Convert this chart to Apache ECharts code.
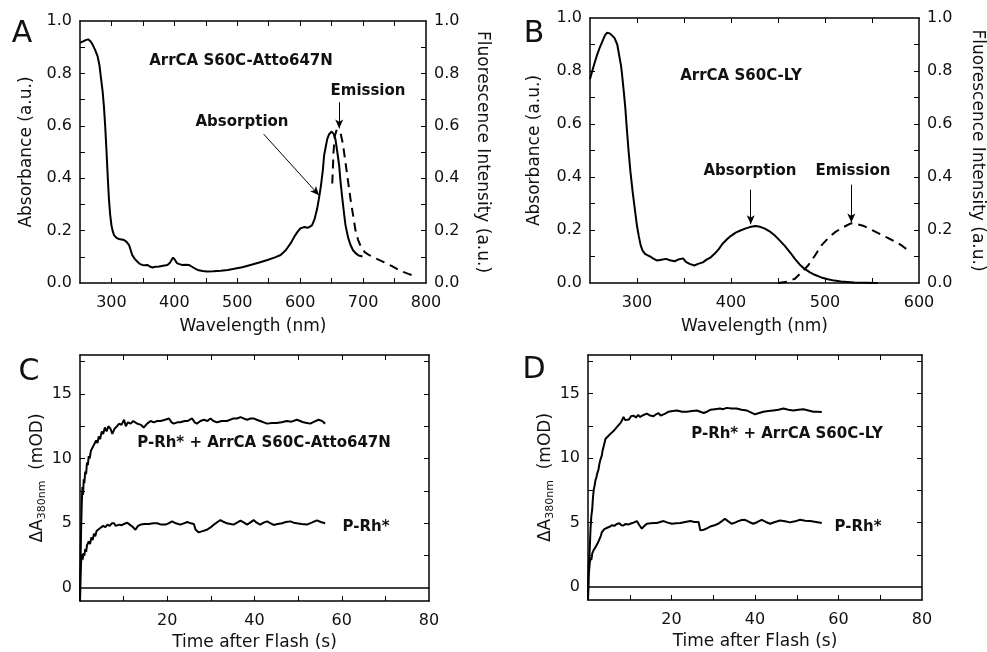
<!DOCTYPE html>
<html>
<head>
<meta charset="utf-8">
<script src="https://cdn.jsdelivr.net/npm/echarts@6/dist/echarts.min.js"></script>
<style>
  html, body { margin: 0; padding: 0; background: #fff; }
  #main { width: 987px; height: 652px; }
</style>
</head>
<body>
<div id="main"></div>
<script>
// panel A: ArrCA S60C-Atto647N spectra [nm, value]
var absA = [[250,0.917],[255,0.922],[259,0.927],[263,0.93],[267,0.922],[270,0.91],[274,0.89],[278,0.865],[281,0.83],[283,0.79],[286,0.73],[288,0.675],[290,0.6],[292,0.51],[294,0.41],[296,0.32],[298,0.26],[300,0.22],[302,0.198],[304,0.183],[308,0.172],[312,0.168],[316,0.166],[320,0.164],[324,0.157],[328,0.145],[330,0.13],[333,0.107],[337,0.092],[341,0.082],[345,0.073],[349,0.069],[353,0.068],[357,0.069],[361,0.063],[365,0.059],[370,0.062],[376,0.063],[382,0.066],[389,0.069],[393,0.077],[395,0.082],[398,0.097],[401,0.088],[404,0.076],[408,0.072],[413,0.069],[418,0.07],[423,0.069],[428,0.062],[433,0.055],[437,0.05],[445,0.046],[452,0.044],[462,0.045],[474,0.047],[485,0.05],[495,0.054],[508,0.06],[521,0.069],[535,0.078],[548,0.088],[560,0.098],[569,0.107],[577,0.125],[585,0.152],[591,0.178],[596,0.196],[600,0.208],[603,0.215],[607,0.214],[611,0.211],[615,0.214],[619,0.221],[623,0.245],[627,0.284],[630,0.325],[633,0.372],[636,0.43],[638,0.486],[641,0.525],[643,0.549],[646,0.568],[650,0.578],[653,0.57],[656,0.549],[659,0.5],[662,0.448],[664,0.39],[667,0.322],[670,0.26],[672,0.221],[676,0.175],[680,0.145],[684,0.125],[688,0.114],[693,0.105],[699,0.101]];
var emA = [[651,0.38],[653,0.5],[655,0.56],[658,0.585],[661,0.59],[664,0.575],[668,0.53],[672,0.46],[676,0.39],[680,0.32],[684,0.26],[688,0.2],[692,0.165],[697,0.135],[703,0.117],[710,0.106],[720,0.094],[733,0.08],[746,0.064],[760,0.046],[772,0.035],[784,0.025]];

// panel B: ArrCA S60C-LY spectra
var absB = [[250,0.77],[254,0.82],[257,0.855],[260,0.885],[263,0.91],[266,0.935],[268,0.944],[271,0.942],[273,0.938],[276,0.925],[279,0.9],[281,0.86],[283,0.82],[284,0.79],[286,0.72],[287.5,0.664],[289,0.59],[291,0.5],[293,0.42],[295.5,0.34],[298,0.27],[300,0.215],[302,0.175],[304,0.141],[306,0.122],[308.5,0.11],[311,0.105],[314,0.1],[317,0.093],[321,0.085],[326,0.088],[331,0.091],[335,0.086],[340,0.082],[345,0.09],[349,0.093],[352,0.08],[356,0.072],[361,0.066],[365,0.072],[370,0.078],[374,0.088],[378.5,0.097],[383,0.112],[387,0.128],[391,0.148],[396,0.166],[400,0.178],[405,0.19],[410,0.198],[415,0.205],[420,0.211],[426,0.215],[431,0.212],[436,0.205],[441,0.195],[447,0.178],[452,0.16],[457,0.141],[463,0.115],[468,0.091],[473,0.07],[478,0.054],[484,0.04],[489,0.031],[496,0.021],[503,0.014],[510,0.009],[517,0.006],[524,0.004],[531,0.002],[543,0.001],[556,0]];
var emB = [[450,0],[460,0.005],[468,0.016],[475,0.04],[482,0.066],[489,0.102],[496,0.141],[503,0.168],[510,0.19],[518,0.208],[527.5,0.225],[534,0.222],[541.5,0.215],[550,0.2],[559,0.184],[568,0.168],[576.5,0.153],[583,0.138],[589,0.122]];

// panel C: kinetics [s, mOD]
var atto = [[0,-1],[0.1,1.5],[0.25,4.5],[0.4,6.5],[0.55,7.8],[0.7,7.2],[0.85,8.4],[1.0,8.1],[1.2,9.0],[1.4,8.8],[1.6,9.7],[1.8,9.5],[2.0,10.2],[2.2,10.0],[2.5,10.6],[2.8,10.5],[3.1,11.0],[3.4,10.9],[3.7,11.4],[4.0,11.2],[4.3,11.7],[4.6,11.5],[5.0,12.1],[5.3,11.9],[5.7,12.4],[6.1,12.1],[6.5,12.5],[7.0,12.3],[7.4,11.9],[7.9,12.3],[8.5,12.5],[9.0,12.7],[9.5,12.6],[10.1,13.0],[10.5,12.5],[11.0,12.8],[11.6,12.7],[12.2,12.9],[13.1,12.7],[14.0,12.6],[14.6,12.4],[15.4,12.7],[16.2,12.9],[16.9,12.8],[17.7,12.9],[18.5,12.9],[19.5,13.0],[20.4,13.1],[21.0,12.8],[21.5,12.7],[22.3,12.8],[23.0,12.8],[24.0,12.9],[24.6,12.9],[25.7,13.1],[26.3,12.8],[26.8,12.7],[27.6,12.9],[28.4,13.0],[29.2,12.9],[29.9,13.1],[30.6,12.9],[31.4,12.8],[32.5,12.9],[33.7,12.9],[35.2,13.1],[36.0,13.1],[36.8,13.2],[37.5,13.1],[38.3,13.0],[39.1,13.1],[39.8,13.1],[40.5,13.0],[41.3,12.9],[42.1,12.8],[42.9,12.7],[44.0,12.75],[45.1,12.75],[46.2,12.8],[47.4,12.9],[48.5,12.85],[49.7,13.0],[50.5,12.9],[51.2,12.8],[52.0,12.75],[52.8,12.7],[53.7,12.85],[54.7,13.0],[55.5,12.9],[56.2,12.7]];
var prhC = [[0,-1],[0.1,0.8],[0.25,2.0],[0.45,2.6],[0.6,2.2],[0.8,2.7],[1.0,2.5],[1.2,3.0],[1.4,2.8],[1.6,3.3],[1.8,3.2],[2.0,3.6],[2.3,3.4],[2.6,3.9],[2.9,3.7],[3.2,4.2],[3.5,4.0],[3.8,4.4],[4.1,4.3],[4.5,4.6],[4.9,4.5],[5.3,4.8],[5.8,4.7],[6.3,4.9],[6.8,4.8],[7.3,5.0],[7.8,5.0],[8.2,4.8],[8.5,4.75],[9.0,4.9],[9.5,4.85],[10.1,4.95],[10.8,5.05],[11.4,4.9],[12.0,4.75],[12.7,4.5],[13.3,4.8],[13.9,4.9],[14.8,4.95],[15.8,4.95],[16.8,5.0],[17.7,5.0],[18.6,4.9],[19.6,4.9],[20.3,5.0],[21.1,5.15],[22.0,5.0],[23.0,4.9],[23.8,5.0],[24.6,5.1],[25.4,5.0],[26.1,4.95],[26.5,4.5],[27.2,4.3],[28.1,4.4],[29.1,4.5],[30.0,4.7],[30.7,4.9],[31.5,5.1],[32.2,5.25],[33.0,5.1],[33.7,5.0],[34.5,4.95],[35.2,4.9],[36.0,5.05],[36.8,5.2],[37.6,5.05],[38.3,4.9],[39.0,5.05],[39.8,5.25],[40.5,5.05],[41.3,4.9],[42.1,5.05],[42.9,5.15],[43.7,5.0],[44.4,4.87],[45.3,4.95],[46.3,5.0],[47.2,5.1],[48.2,5.15],[49.0,5.05],[49.7,5.0],[50.8,4.95],[52.0,4.9],[53.1,5.05],[54.3,5.23],[55.2,5.1],[56.2,5.0]];

// panel D: kinetics
var ly = [[0,-1],[0.15,1.5],[0.4,2.8],[0.6,4.5],[0.8,5.5],[1.0,6.0],[1.2,7.0],[1.4,7.6],[1.6,7.9],[1.8,8.3],[2.0,8.5],[2.2,8.8],[2.5,9.1],[2.7,9.5],[2.9,9.8],[3.1,10.0],[3.3,10.2],[3.5,10.6],[3.7,10.85],[4.0,11.0],[4.2,11.5],[4.5,11.6],[4.8,11.7],[5.1,11.6],[5.4,11.9],[5.7,11.85],[6.1,12.1],[6.5,12.15],[6.9,12.4],[7.3,12.5],[7.7,12.7],[8.1,12.9],[8.5,13.2],[8.9,12.95],[9.3,13.1],[9.8,13.0],[10.3,13.25],[10.9,13.3],[11.5,13.15],[12.0,13.35],[12.5,13.2],[13.3,13.35],[14.1,13.45],[14.9,13.3],[15.7,13.25],[16.3,13.4],[16.9,13.5],[17.4,13.3],[17.7,13.15],[18.5,13.45],[19.3,13.6],[20.3,13.65],[21.3,13.7],[22.5,13.6],[23.7,13.6],[24.9,13.65],[26.1,13.7],[26.9,13.6],[27.7,13.5],[28.5,13.6],[29.3,13.75],[30.4,13.8],[31.6,13.85],[32.4,13.8],[33.2,13.9],[34.4,13.85],[35.6,13.85],[36.8,13.75],[38.0,13.7],[39.0,13.55],[40.0,13.4],[41.0,13.5],[42.0,13.6],[43.2,13.65],[44.4,13.7],[45.6,13.75],[46.8,13.85],[48.0,13.75],[49.2,13.7],[50.4,13.75],[51.6,13.8],[52.8,13.7],[54.0,13.6],[55.0,13.6],[56.0,13.58]];
var prhD = [[0,-1],[0.15,0.8],[0.4,1.8],[0.6,2.3],[0.8,2.1],[1.0,2.6],[1.2,2.5],[1.4,2.9],[1.6,2.8],[1.8,3.1],[2.0,3.0],[2.3,3.4],[2.6,3.6],[2.9,3.5],[3.1,4.0],[3.3,4.25],[3.6,4.1],[3.9,4.5],[4.2,4.4],[4.6,4.6],[5.0,4.55],[5.3,4.7],[5.8,4.8],[6.3,4.75],[6.9,4.9],[7.5,4.95],[8.0,4.8],[8.5,4.78],[9.0,4.9],[9.6,4.85],[10.1,4.91],[10.9,5.0],[11.7,5.12],[12.3,4.8],[12.9,4.53],[13.5,4.75],[14.1,4.91],[15.0,4.95],[16.0,4.97],[16.5,4.97],[17.3,5.05],[18.1,5.12],[19.1,5.0],[20.1,4.91],[21.1,4.95],[22.1,4.97],[23.3,5.05],[24.5,5.12],[25.5,5.05],[26.5,5.04],[26.9,4.4],[27.7,4.45],[28.5,4.55],[29.3,4.7],[30.3,4.8],[31.2,4.91],[32.0,5.1],[32.8,5.3],[33.6,5.1],[34.4,4.91],[35.2,5.0],[36.0,5.12],[36.8,5.2],[37.6,5.22],[38.6,5.05],[39.6,4.91],[40.6,5.05],[41.6,5.22],[42.6,5.05],[43.6,4.91],[44.8,5.05],[46.0,5.17],[47.2,5.1],[48.4,5.02],[49.6,5.1],[50.8,5.22],[52.0,5.15],[53.2,5.12],[54.6,5.05],[56.0,4.97]];

// ticks and labels
var wlTicksA = [300,350,400,450,500,550,600,650,700,750];
var wlLabelsA = [300,400,500,600,700,800];
var wlTicksB = [300,350,400,450,500,550];
var wlLabelsB = [300,400,500,600];
var specTicks = [0.1,0.2,0.3,0.4,0.5,0.6,0.7,0.8,0.9];
var specLabels = [0,0.2,0.4,0.6,0.8,1.0];
var timeTicks = [10,20,30,40,50,60,70];
var timeLabels = [20,40,60,80];
var odTicks = [2.5,5,7.5,10,12.5,15,17.5];
var odLabels = [0,5,10,15];

var FONT = 'DejaVu Sans';
var chart = echarts.init(document.getElementById('main'));

function axis(grid, pos, min, max, ticks, labels, fmt, name, gap, extra) {
    var a = {
        type: 'value', gridIndex: grid, position: pos, min: min, max: max,
        axisLine: { onZero: false, lineStyle: { color: '#000', width: 1.5 } },
        axisTick: { inside: true, length: 5, customValues: ticks, lineStyle: { color: '#000', width: 1 } },
        axisLabel: labels ? {
            customValues: labels, color: '#111', fontFamily: FONT, fontSize: 16,
            margin: (pos === 'bottom') ? 12 : 8, formatter: fmt
        } : { show: false },
        splitLine: { show: false }
    };
    if (name) {
        a.name = name;
        a.nameLocation = 'middle';
        a.nameGap = gap;
        a.nameTextStyle = { color: '#111', fontFamily: FONT, fontSize: 17 };
    }
    if (extra) for (var k in extra) a[k] = extra[k];
    return a;
}
var f1 = function (v) { return v.toFixed(1); };
var f0 = function (v) { return String(v); };

var odName = '{d|ΔA}{s|380nm}{d|  (mOD)}';
var odRich = {
    color: '#111', fontFamily: FONT, fontSize: 17,
    rich: {
        d: { fontFamily: FONT, fontSize: 17, color: '#111' },
        s: { fontFamily: FONT, fontSize: 11, color: '#111', padding: [9, 0, 0, 0] }
    }
};

var arrowLine = {
    silent: true, symbol: ['none', 'arrow'], symbolSize: [6, 9],
    label: { show: false }, emphasis: { disabled: true },
    lineStyle: { color: '#000', width: 1, type: 'solid' }
};
function arrows(pairs) {
    var m = JSON.parse(JSON.stringify(arrowLine));
    m.data = pairs.map(function (p) { return [{ coord: p[0] }, { coord: p[1] }]; });
    return m;
}
var zeroLine = {
    silent: true, symbol: ['none', 'none'], label: { show: false },
    lineStyle: { color: '#000', width: 1.5, type: 'solid' },
    data: [{ yAxis: 0 }]
};

function line(data, xi, yi, dashed, extra) {
    var s = {
        type: 'line', data: data, xAxisIndex: xi, yAxisIndex: yi,
        showSymbol: false, symbol: 'none', animation: false,
        lineStyle: { color: '#000', width: 2, type: dashed ? [9, 6] : 'solid' }
    };
    if (extra) for (var k in extra) s[k] = extra[k];
    return s;
}

function label(txt, x, y, size, weight) {
    return {
        type: 'text', x: x, y: y,
        style: {
            text: txt, fill: '#111', fontFamily: FONT, fontSize: size, fontWeight: weight || 'normal',
            align: 'center', verticalAlign: 'middle', textAlign: 'center', textVerticalAlign: 'middle'
        }
    };
}

var option = {
    backgroundColor: '#fff',
    animation: false,
    grid: [
        { left: 80, top: 21, width: 346, height: 262 },
        { left: 590, top: 18, width: 332, height: 265 },
        { left: 80, top: 355, width: 349, height: 247 },
        { left: 588, top: 355, width: 334, height: 245 }
    ],
    xAxis: [
        axis(0, 'bottom', 250, 800, wlTicksA, wlLabelsA, f0, 'Wavelength (nm)', 35),
        axis(0, 'top', 250, 800, wlTicksA, null),
        axis(1, 'bottom', 250, 600, wlTicksB, wlLabelsB, f0, 'Wavelength (nm)', 35),
        axis(1, 'top', 250, 600, wlTicksB, null),
        axis(2, 'bottom', 0, 80, timeTicks, timeLabels, f0, 'Time after Flash (s)', 33),
        axis(2, 'top', 0, 80, timeTicks, null),
        axis(3, 'bottom', 0, 80, timeTicks, timeLabels, f0, 'Time after Flash (s)', 33),
        axis(3, 'top', 0, 80, timeTicks, null)
    ],
    yAxis: [
        axis(0, 'left', 0, 1, specTicks, specLabels, f1, 'Absorbance (a.u.)', 45),
        axis(0, 'right', 0, 1, specTicks, specLabels, f1, 'Fluorescence Intensity (a.u.)', 48, { nameRotate: -90 }),
        axis(1, 'left', 0, 1, specTicks, specLabels, f1, 'Absorbance (a.u.)', 47),
        axis(1, 'right', 0, 1, specTicks, specLabels, f1, 'Fluorescence Intensity (a.u.)', 50, { nameRotate: -90 }),
        axis(2, 'left', -1, 18, odTicks, odLabels, f0, odName, 32, { nameTextStyle: odRich }),
        axis(2, 'right', -1, 18, odTicks, null),
        axis(3, 'left', -1, 18, odTicks, odLabels, f0, odName, 32, { nameTextStyle: odRich }),
        axis(3, 'right', -1, 18, odTicks, null)
    ],
    series: [
        line(absA, 0, 0, false, { markLine: arrows([[[542, 0.568], [630, 0.335]]]) }),
        line(emA, 0, 1, true, { markLine: arrows([[[662, 0.69], [662, 0.59]]]) }),
        line(absB, 2, 2, false, { markLine: arrows([[[421, 0.352], [421, 0.222]]]) }),
        line(emB, 2, 3, true, { markLine: arrows([[[528, 0.371], [528, 0.228]]]) }),
        line(atto, 4, 4, false),
        line(prhC, 4, 4, false, { markLine: zeroLine }),
        line(ly, 6, 6, false),
        line(prhD, 6, 6, false, { markLine: zeroLine })
    ],
    graphic: [
        label('A', 22, 34, 30),
        label('B', 534, 34, 30),
        label('C', 29, 372, 30),
        label('D', 534, 370, 30),
        label('ArrCA S60C-Atto647N', 241, 61, 15, 'bold'),
        label('Emission', 368, 91, 15, 'bold'),
        label('Absorption', 242, 122, 15, 'bold'),
        label('ArrCA S60C-LY', 741, 76, 15, 'bold'),
        label('Absorption', 750, 171, 15, 'bold'),
        label('Emission', 853, 171, 15, 'bold'),
        label('P-Rh* + ArrCA S60C-Atto647N', 264, 443, 15, 'bold'),
        label('P-Rh*', 366, 527, 15, 'bold'),
        label('P-Rh* + ArrCA S60C-LY', 787, 434, 15, 'bold'),
        label('P-Rh*', 858, 527, 15, 'bold')
    ]
};
chart.setOption(option);
</script>
</body>
</html>
